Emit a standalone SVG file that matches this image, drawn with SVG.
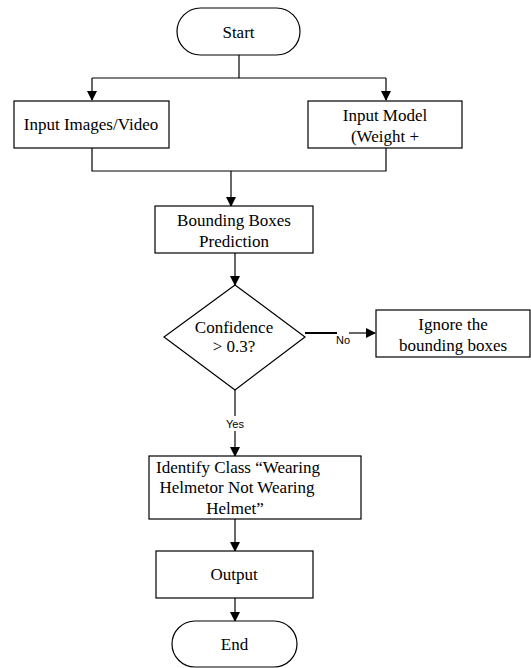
<svg xmlns="http://www.w3.org/2000/svg" width="531" height="668" viewBox="0 0 531 668">
<defs>
<marker id="ah" markerWidth="10" markerHeight="10" refX="9" refY="5" orient="auto" markerUnits="userSpaceOnUse">
<path d="M0,0 L10,5 L0,10 Z" fill="#000"/>
</marker>
<style>
.box{fill:#fff;stroke:#000;stroke-width:1.2}
.t{font-family:"Liberation Serif","Times New Roman",serif;font-size:17px;fill:#000;text-anchor:middle}
.s{font-family:"Liberation Sans",Arial,sans-serif;font-size:11px;fill:#000;text-anchor:middle}
.c{fill:none;stroke:#000;stroke-width:1.2}
</style>
</defs>
<rect width="531" height="668" fill="#fff"/>
<g id="connectors">
<path class="c" d="M239,55 V78"/>
<path class="c" d="M92,78 H386"/>
<path class="c" d="M92,78 V100" marker-end="url(#ah)"/>
<path class="c" d="M386,78 V100" marker-end="url(#ah)"/>
<path class="c" d="M92,148 V171 H386 V148"/>
<path class="c" d="M231,171 V206" marker-end="url(#ah)"/>
<path class="c" d="M235,253 V285" marker-end="url(#ah)"/>
<path d="M305,333 H337" stroke="#000" stroke-width="2" fill="none"/>
<path class="c" d="M349,333 H375" marker-end="url(#ah)"/>
<text class="s" x="343" y="344">No</text>
<path class="c" d="M235,390 V416"/>
<text class="s" x="235" y="428">Yes</text>
<path class="c" d="M235,431 V456" marker-end="url(#ah)"/>
<path class="c" d="M235,519 V551" marker-end="url(#ah)"/>
<path class="c" d="M235,598 V621" marker-end="url(#ah)"/>
</g>
<g id="start">
<rect class="box" x="177" y="8" width="123" height="47" rx="23.5"/>
<text class="t" x="238.5" y="38">Start</text>
</g>
<g id="input-images">
<rect class="box" x="14" y="101" width="155" height="47"/>
<text class="t" x="91" y="130">Input Images/Video</text>
</g>
<g id="input-model">
<rect class="box" x="308" y="101" width="154" height="47"/>
<text class="t" x="385" y="121">Input Model</text>
<text class="t" x="385" y="142">(Weight +</text>
</g>
<g id="bbox-pred">
<rect class="box" x="155" y="206" width="158" height="47"/>
<text class="t" x="234" y="226">Bounding Boxes</text>
<text class="t" x="234" y="247">Prediction</text>
</g>
<g id="decision">
<polygon class="box" points="235,285 305,337 235,390 164,337"/>
<text class="t" x="234" y="333">Confidence</text>
<text class="t" x="234" y="352">&gt; 0.3?</text>
</g>
<g id="ignore">
<rect class="box" x="376" y="310" width="154" height="47"/>
<text class="t" x="453" y="330">Ignore the</text>
<text class="t" x="453" y="351">bounding boxes</text>
</g>
<g id="identify">
<rect class="box" x="149" y="456" width="212" height="63"/>
<text class="t" x="238" y="473">Identify Class “Wearing</text>
<text class="t" x="237" y="493">Helmetor Not Wearing</text>
<text class="t" x="235" y="514">Helmet”</text>
</g>
<g id="output">
<rect class="box" x="156" y="551" width="157" height="47"/>
<text class="t" x="234" y="580">Output</text>
</g>
<g id="end">
<rect class="box" x="172" y="621" width="125" height="46" rx="23"/>
<text class="t" x="234.5" y="650">End</text>
</g>
</svg>
